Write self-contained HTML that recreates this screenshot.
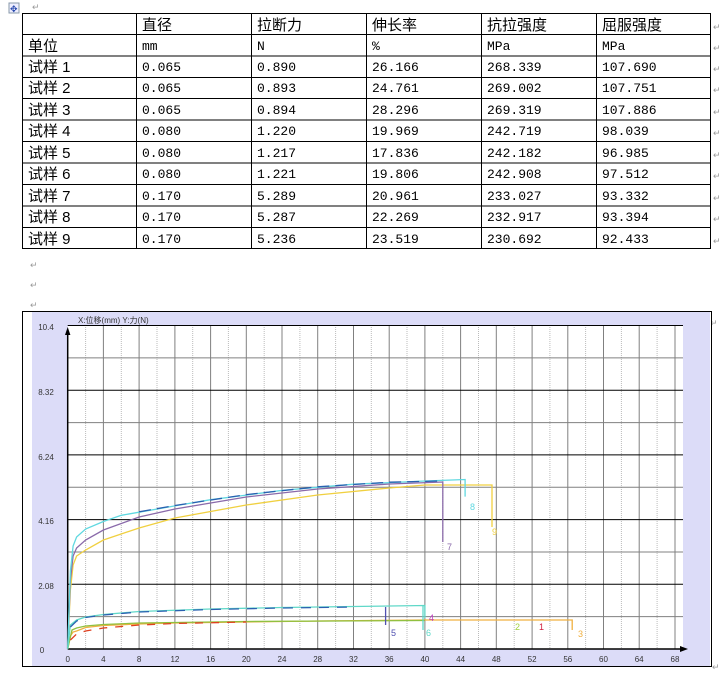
<!DOCTYPE html>
<html><head><meta charset="utf-8"><style>
html,body{margin:0;padding:0;background:#fff;width:720px;height:675px;overflow:hidden}
svg{display:block}
.c{font-family:"Liberation Sans","Noto Sans CJK SC",sans-serif;font-size:15px;fill:#000}
.n{font-family:"Liberation Mono","Noto Sans CJK SC",monospace;font-size:13px;fill:#000}
.a{font-family:"Liberation Sans",sans-serif;font-size:8px;fill:#333}
.r{fill:#999;font-size:9px;font-family:"Liberation Sans",sans-serif}
</style></head><body>
<svg width="720" height="675" xmlns="http://www.w3.org/2000/svg">
<!-- table -->
<rect x="9" y="3" width="10" height="10" fill="#eef" stroke="#89a"/>
<text x="10" y="12" font-size="9" fill="#24a">✥</text>
<text x="32" y="10" class="r">↵</text>
<g stroke="#000" stroke-width="1" fill="none">
<rect x="22.5" y="13.5" width="688" height="235"/>
<line x1="136.5" y1="13" x2="136.5" y2="249"/><line x1="251.5" y1="13" x2="251.5" y2="249"/>
<line x1="366.5" y1="13" x2="366.5" y2="249"/><line x1="481.5" y1="13" x2="481.5" y2="249"/>
<line x1="596.5" y1="13" x2="596.5" y2="249"/>
<line x1="22" y1="34.5" x2="711" y2="34.5"/><line x1="22" y1="56" x2="711" y2="56"/>
<line x1="22" y1="77.5" x2="711" y2="77.5"/><line x1="22" y1="98.5" x2="711" y2="98.5"/>
<line x1="22" y1="120" x2="711" y2="120"/><line x1="22" y1="141.5" x2="711" y2="141.5"/>
<line x1="22" y1="163" x2="711" y2="163"/><line x1="22" y1="184.5" x2="711" y2="184.5"/>
<line x1="22" y1="206" x2="711" y2="206"/><line x1="22" y1="227.5" x2="711" y2="227.5"/>
</g>
<g class="c">
<text x="142" y="30">直径</text><text x="257" y="30">拉断力</text><text x="372" y="30">伸长率</text><text x="487" y="30">抗拉强度</text><text x="602" y="30">屈服强度</text>
<text x="28" y="51">单位</text>
<text x="28" y="72">试样 1</text><text x="28" y="93">试样 2</text><text x="28" y="115">试样 3</text>
<text x="28" y="136">试样 4</text><text x="28" y="158">试样 5</text><text x="28" y="179">试样 6</text>
<text x="28" y="201">试样 7</text><text x="28" y="222">试样 8</text><text x="28" y="244">试样 9</text>
</g>
<g class="n">
<text x="142" y="50">mm</text><text x="257" y="50">N</text><text x="372" y="50">%</text><text x="487" y="50">MPa</text><text x="602" y="50">MPa</text>
<text x="142" y="71">0.065</text><text x="257" y="71">0.890</text><text x="372" y="71">26.166</text><text x="487" y="71">268.339</text><text x="602" y="71">107.690</text>
<text x="142" y="92">0.065</text><text x="257" y="92">0.893</text><text x="372" y="92">24.761</text><text x="487" y="92">269.002</text><text x="602" y="92">107.751</text>
<text x="142" y="114">0.065</text><text x="257" y="114">0.894</text><text x="372" y="114">28.296</text><text x="487" y="114">269.319</text><text x="602" y="114">107.886</text>
<text x="142" y="135">0.080</text><text x="257" y="135">1.220</text><text x="372" y="135">19.969</text><text x="487" y="135">242.719</text><text x="602" y="135">98.039</text>
<text x="142" y="157">0.080</text><text x="257" y="157">1.217</text><text x="372" y="157">17.836</text><text x="487" y="157">242.182</text><text x="602" y="157">96.985</text>
<text x="142" y="178">0.080</text><text x="257" y="178">1.221</text><text x="372" y="178">19.806</text><text x="487" y="178">242.908</text><text x="602" y="178">97.512</text>
<text x="142" y="200">0.170</text><text x="257" y="200">5.289</text><text x="372" y="200">20.961</text><text x="487" y="200">233.027</text><text x="602" y="200">93.332</text>
<text x="142" y="221">0.170</text><text x="257" y="221">5.287</text><text x="372" y="221">22.269</text><text x="487" y="221">232.917</text><text x="602" y="221">93.394</text>
<text x="142" y="243">0.170</text><text x="257" y="243">5.236</text><text x="372" y="243">23.519</text><text x="487" y="243">230.692</text><text x="602" y="243">92.433</text>
</g>
<g class="r"><text x="713" y="30">↵</text><text x="713" y="51">↵</text><text x="713" y="72">↵</text><text x="713" y="93">↵</text><text x="713" y="115">↵</text><text x="713" y="136">↵</text><text x="713" y="158">↵</text><text x="713" y="179">↵</text><text x="713" y="201">↵</text><text x="713" y="222">↵</text><text x="713" y="244">↵</text>
<text x="30" y="268">↵</text><text x="30" y="288">↵</text><text x="30" y="308">↵</text><text x="710" y="326">↵</text><text x="712" y="670">↵</text></g>

<!-- chart -->
<rect x="22.5" y="311.5" width="689" height="355" fill="#fff" stroke="#000"/>
<rect x="32" y="312" width="678" height="354" fill="#dcdcf8"/>
<rect x="67.7" y="325.5" width="615.3" height="323.5" fill="#fff"/>
<g stroke="#bbb" stroke-width="1" stroke-dasharray="1,1">
<line x1="85.6" y1="325" x2="85.6" y2="649"/><line x1="121.3" y1="325" x2="121.3" y2="649"/><line x1="157" y1="325" x2="157" y2="649"/><line x1="192.7" y1="325" x2="192.7" y2="649"/><line x1="228.4" y1="325" x2="228.4" y2="649"/><line x1="264.2" y1="325" x2="264.2" y2="649"/><line x1="299.9" y1="325" x2="299.9" y2="649"/><line x1="335.6" y1="325" x2="335.6" y2="649"/><line x1="371.3" y1="325" x2="371.3" y2="649"/><line x1="407" y1="325" x2="407" y2="649"/><line x1="442.8" y1="325" x2="442.8" y2="649"/><line x1="478.5" y1="325" x2="478.5" y2="649"/><line x1="514.2" y1="325" x2="514.2" y2="649"/><line x1="549.9" y1="325" x2="549.9" y2="649"/><line x1="585.6" y1="325" x2="585.6" y2="649"/><line x1="621.4" y1="325" x2="621.4" y2="649"/><line x1="657.1" y1="325" x2="657.1" y2="649"/>
</g>
<g stroke="#808080" stroke-width="1">
<line x1="103.4" y1="325" x2="103.4" y2="649"/><line x1="139.1" y1="325" x2="139.1" y2="649"/><line x1="174.9" y1="325" x2="174.9" y2="649"/><line x1="210.6" y1="325" x2="210.6" y2="649"/><line x1="246.3" y1="325" x2="246.3" y2="649"/><line x1="282" y1="325" x2="282" y2="649"/><line x1="317.7" y1="325" x2="317.7" y2="649"/><line x1="353.5" y1="325" x2="353.5" y2="649"/><line x1="389.2" y1="325" x2="389.2" y2="649"/><line x1="424.9" y1="325" x2="424.9" y2="649"/><line x1="460.6" y1="325" x2="460.6" y2="649"/><line x1="496.3" y1="325" x2="496.3" y2="649"/><line x1="532.1" y1="325" x2="532.1" y2="649"/><line x1="567.8" y1="325" x2="567.8" y2="649"/><line x1="603.5" y1="325" x2="603.5" y2="649"/><line x1="639.2" y1="325" x2="639.2" y2="649"/><line x1="675" y1="325" x2="675" y2="649"/>
<line x1="67.7" y1="616.6" x2="683" y2="616.6"/><line x1="67.7" y1="552" x2="683" y2="552"/><line x1="67.7" y1="487.3" x2="683" y2="487.3"/><line x1="67.7" y1="422.6" x2="683" y2="422.6"/><line x1="67.7" y1="357.9" x2="683" y2="357.9"/>
</g>
<g stroke="#000" stroke-width="1">
<line x1="67.7" y1="584.3" x2="683" y2="584.3"/><line x1="67.7" y1="519.6" x2="683" y2="519.6"/><line x1="67.7" y1="454.9" x2="683" y2="454.9"/><line x1="67.7" y1="390.2" x2="683" y2="390.2"/><line x1="67.7" y1="325.5" x2="683" y2="325.5"/>
<line x1="67.7" y1="649" x2="680" y2="649" stroke-width="1.5"/><line x1="67.7" y1="330" x2="67.7" y2="649" stroke-width="1.5"/>
</g>
<polygon points="67.7,327 65,335 70.4,335" fill="#000"/>
<polygon points="688,649 680,646 680,652" fill="#000"/>
<text x="78" y="323" class="a">X:位移(mm)   Y:力(N)</text>
<g class="a" text-anchor="middle">
<text x="46" y="330">10.4</text><text x="46" y="395">8.32</text><text x="46" y="460">6.24</text><text x="46" y="524">4.16</text><text x="46" y="589">2.08</text><text x="42" y="653">0</text>
<text x="67.7" y="662">0</text><text x="103.4" y="662">4</text><text x="139.1" y="662">8</text><text x="174.9" y="662">12</text><text x="210.6" y="662">16</text><text x="246.3" y="662">20</text><text x="282" y="662">24</text><text x="317.7" y="662">28</text><text x="353.5" y="662">32</text><text x="389.2" y="662">36</text><text x="424.9" y="662">40</text><text x="460.6" y="662">44</text><text x="496.3" y="662">48</text><text x="532.1" y="662">52</text><text x="567.8" y="662">56</text><text x="603.5" y="662">60</text><text x="639.2" y="662">64</text><text x="675" y="662">68</text>
</g>
<g fill="none" stroke-width="1.3">
<polyline stroke="#f0d040" points="67.7,649 70.4,590 73.1,565 76.6,556 85.6,550 103.4,540 139.1,528 174.9,518 246.3,505 317.7,495 389.2,488 424.9,485 492,485 492,527"/>
<polyline stroke="#8a6aaa" points="67.7,649 70.4,580 73.1,556 76.6,548 85.6,540 103.4,530 139.1,517 174.9,509 246.3,497 317.7,489 389.2,484 442.8,482 442.8,542"/>
<polyline stroke="#60d8e0" points="67.7,649 70.4,571 73.1,546 76.6,537 85.6,529 103.4,521.5 121.3,515.3 139.1,512.2 174.9,505.9 210.6,499.7 246.3,495.1 282,490.4 317.7,487.3 353.5,484.2 389.2,482.6 424.9,481 465.1,479.5 465.1,496.6"/>
<polyline stroke="#2a60b0" stroke-dasharray="12,6" points="139.1,511.8 174.9,505.5 246.3,494.6 317.7,486.8 389.2,482.2 440,481"/>
<polyline stroke="#f0b040" points="67.7,649 70.4,636 73.1,632 76.6,631 85.6,627.5 103.4,625.5 139.1,624 174.9,623 246.3,622 317.7,621 424.9,620 572.2,620 572.2,630"/>
<polyline stroke="#90c040" points="67.7,649 72,630 76.6,628 85.6,626 103.4,624.5 139.1,623 246.3,621.5 424.9,620.5"/>
<polyline stroke="#e04020" stroke-dasharray="8,8" points="70.4,640 76.6,634 85.6,631 103.4,628 139.1,625 174.9,623.5 246.3,622"/>
<polyline stroke="#60d8c8" points="67.7,649 70.4,625 76.6,620 85.6,617 103.4,614.5 139.1,611.5 210.6,609 282,607.5 353.5,606.5 424.9,605.5 424.9,618"/>
<polyline stroke="#2a60b0" stroke-dasharray="10,8" points="70.4,627 76.6,621 85.6,617.5 103.4,615 139.1,612 210.6,609.5 282,608 353.5,607"/>
<line stroke="#5050b0" x1="385.6" y1="607" x2="385.6" y2="625"/>
<line stroke="#60d8c8" x1="423" y1="606" x2="423" y2="630"/>
</g>
<g font-family="Liberation Sans,sans-serif" font-size="9">
<text x="447" y="550" fill="#8a6aaa">7</text><text x="470" y="510" fill="#60d8e0">8</text><text x="492" y="535" fill="#f0d040">9</text>
<text x="391" y="636" fill="#5050b0">5</text><text x="426" y="636" fill="#60d8c8">6</text><text x="429" y="621" fill="#c040c0">4</text>
<text x="515" y="630" fill="#a0d040">2</text><text x="539" y="630" fill="#d02040">1</text><text x="578" y="637" fill="#f0b040">3</text>
</g>
</svg>
</body></html>
